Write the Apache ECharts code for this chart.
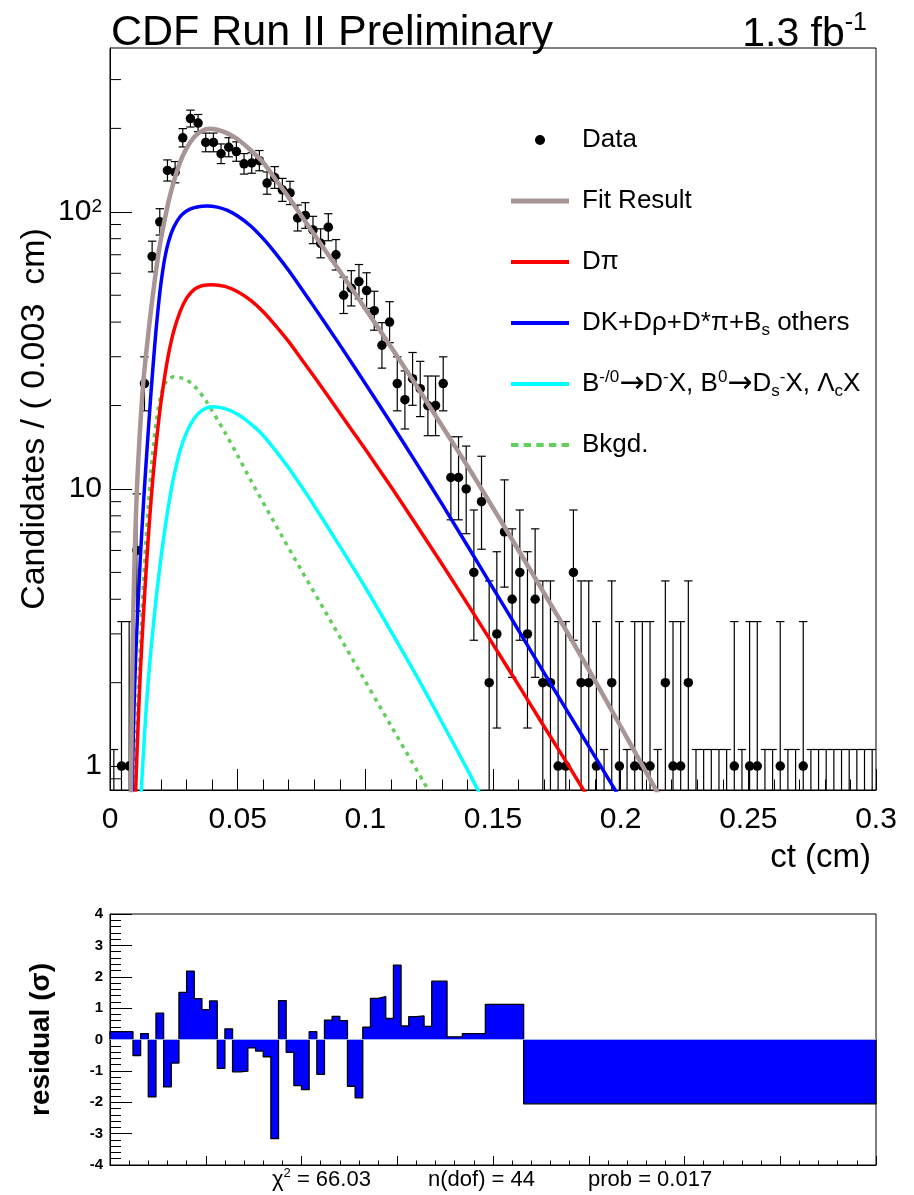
<!DOCTYPE html>
<html>
<head>
<meta charset="utf-8">
<script src="https://cdn.jsdelivr.net/npm/echarts@6/dist/echarts.min.js"></script>
<style>html,body{margin:0;padding:0;background:#fff}#c{width:914px;height:1195px}</style>
</head>
<body>
<div id="c"></div>
<script>
// ---------------- data ----------------
const binWidth = 0.003; // cm
const counts = [0,1,1,6,24,69,92,141,139,185, 217,209,178,178,162,171,165,149,150,153,
  127,133,120,117,95,97,86,77,88,70, 50,53,56,52,44,33,40,24,21,25,
  23,20,20,24,11,11,10,5,9,2, 3,7,4,5,3,4,2,2,1,1,
  5,2,2,1,0,2,1,0,1,1, 1,0,2,1,1,2,0,0,0,0,
  0,1,0,1,1,0,0,1,0,0, 1,0,0,0,0,0,0,0,0,0];

const fitX = [0.0080,0.0082,0.0085,0.0090,0.0095,0.0100,0.0105,0.0110,0.0120,0.0130,0.0140,0.0150,0.0160,0.0170,0.0180,0.0190,0.0200,0.0215,0.0230,0.0250,0.0275,0.0300,0.0330,0.0360,0.0390,0.0420,0.0460,0.0500,0.0550,0.0600,0.0650,0.0700,0.0750,0.0800,0.0900,0.1000,0.1100,0.1200,0.1300,0.1400,0.1500,0.1600,0.1700,0.1800,0.1900,0.2000,0.2100,0.2200];
const fitY = [0.50,0.83,1.45,3.16,5.01,7.24,9.77,12.3,17.8,24.0,29.9,36.3,43.7,51.9,61.0,70.8,80.4,94.4,109.6,128.8,151.4,169.8,186.2,195.9,199.5,197.7,191.9,182.8,167.1,150.7,130.3,112.7,96.6,82.8,61.0,44.7,32.6,23.6,16.9,12.1,8.55,6.01,4.21,2.94,2.03,1.39,0.95,0.65];

const dkX = [0.0085,0.0087,0.0090,0.0095,0.0100,0.0105,0.0110,0.0120,0.0130,0.0140,0.0150,0.0160,0.0170,0.0180,0.0190,0.0200,0.0215,0.0230,0.0250,0.0275,0.0300,0.0330,0.0360,0.0380,0.0420,0.0460,0.0500,0.0550,0.0600,0.0650,0.0700,0.0750,0.0800,0.0900,0.1000,0.1100,0.1200,0.1300,0.1400,0.1500,0.1600,0.1700,0.1800,0.1900,0.2000];
const dkY = [0.68,0.83,1.15,1.74,2.40,3.09,3.89,5.89,8.51,11.9,16.2,21.9,28.8,37.2,46.2,55.6,68.4,78.5,88.1,96.2,100.7,103.5,104.7,105.0,104.0,101.2,96.6,89.1,80.0,70.5,61.4,52.8,45.3,33.1,24.0,17.3,12.4,8.83,6.24,4.39,3.09,2.17,1.53,1.08,0.76];

const dpiX = [0.0098,0.0100,0.0105,0.0110,0.0115,0.0120,0.0130,0.0140,0.0150,0.0160,0.0170,0.0180,0.0190,0.0200,0.0215,0.0230,0.0250,0.0275,0.0300,0.0330,0.0360,0.0400,0.0450,0.0500,0.0550,0.0600,0.0650,0.0700,0.0750,0.0800,0.0900,0.1000,0.1100,0.1200,0.1300,0.1400,0.1500,0.1600,0.1700,0.1800,0.1900];
const dpiY = [0.70,0.79,1.07,1.41,1.82,2.29,3.39,4.84,6.68,8.91,11.5,14.3,17.4,20.7,25.7,30.9,37.2,43.7,48.8,52.5,54.1,54.6,53.8,51.5,48.0,43.6,38.7,34.0,29.4,25.4,18.8,13.9,10.2,7.41,5.36,3.85,2.75,1.96,1.39,0.99,0.70];

const bdxX = [0.0120,0.0123,0.0130,0.0140,0.0150,0.0160,0.0170,0.0180,0.0190,0.0200,0.0215,0.0230,0.0250,0.0275,0.0300,0.0330,0.0360,0.0400,0.0450,0.0500,0.0550,0.0600,0.0650,0.0700,0.0750,0.0800,0.0900,0.1000,0.1100,0.1200,0.1300,0.1400,0.1450,0.1500];
const bdxY = [0.69,0.83,1.08,1.53,2.04,2.60,3.24,3.98,4.79,5.69,7.16,8.81,11.1,13.8,16.0,18.0,19.2,19.8,19.5,18.6,17.2,15.6,13.7,11.9,10.2,8.69,6.21,4.41,3.07,2.12,1.44,0.97,0.79,0.64];

const bkgX = [0.0095,0.0097,0.0100,0.0105,0.0110,0.0115,0.0120,0.0130,0.0140,0.0150,0.0160,0.0170,0.0180,0.0190,0.0200,0.0215,0.0230,0.0250,0.0275,0.0300,0.0340,0.0380,0.0450,0.0500,0.0550,0.0650,0.0750,0.0850,0.0950,0.1100,0.1250];
const bkgY = [0.72,0.83,1.00,1.35,1.78,2.29,2.88,4.37,6.31,8.71,11.5,14.3,17.2,19.7,21.9,24.0,24.9,25.4,25.2,24.8,23.0,20.5,16.0,13.2,10.8,7.38,5.08,3.52,2.43,1.40,0.81];

const residEdges = [0,0.009,0.012,0.015,0.018,0.021,0.024,0.027,0.030,0.033,0.036,0.039,0.042,0.045,0.048,
  0.051,0.054,0.057,0.060,0.063,0.066,0.069,0.072,0.075,0.078,0.081,0.084,0.087,0.090,0.093,0.096,0.099,
  0.102,0.105,0.108,0.111,0.114,0.117,0.120,0.123,0.126,0.132,0.138,0.147,0.162,0.3];
const residVals = [0.25,-0.51,0.19,-1.83,0.84,-1.51,-0.75,1.50,2.18,1.30,0.95,1.23,-0.92,0.34,-1.03,-1.01,
  -0.27,-0.37,-0.55,-3.16,1.24,-0.41,-1.47,-1.60,0.25,-1.11,0.62,0.74,0.60,-1.49,-1.86,0.39,1.31,1.37,
  0.67,2.37,0.43,0.73,0.75,0.42,1.86,0.085,0.19,1.12,-2.05];

const yMinorTicks = [0.9,2,3,4,5,6,7,8,9,20,30,40,50,60,70,80,90,200,300];
const statsText = ['χ{sup|2} = 66.03', 'n(dof) = 44', 'prob = 0.017'];

// ---------------- derived ----------------
const Y_MIN = 0.82, Y_MAX = 390;
const FONT = '"Liberation Sans", Arial, Helvetica, sans-serif';
// Poisson 68% interval (Gehrels approximation); zero bins use the one-sided 1.148
function poisLo(n) { return n <= 0 ? 0 : n * Math.pow(1 - 1 / (9 * n) - 1 / (3 * Math.sqrt(n)), 3); }
function poisHi(n) { return n <= 0 ? 1.148 : n + Math.sqrt(n + 0.75) + 1; }

const pointData = [], errData = [];
counts.forEach((c, i) => {
  const x = +(binWidth * (i + 0.5)).toFixed(5);
  if (c > 0) pointData.push([x, c]);
  errData.push([x, poisLo(c), poisHi(c)]);
});
const zip = (xs, ys) => xs.map((x, i) => [x, ys[i]]);

const residLine = [[residEdges[0], 0]];
residVals.forEach((v, i) => { residLine.push([residEdges[i], v], [residEdges[i + 1], v]); });
residLine.push([residEdges[residEdges.length - 1], 0]);

const COLORS = { fit: '#a89595', dk: '#0000ff', dpi: '#ff0000', bdx: '#00ffff', bkg: '#62cf5a' };

const legendText = {
  'Data': 'Data',
  'Fit Result': 'Fit Result',
  'Dπ': 'Dπ',
  'DK': 'DK+Dρ+D*π+B{sub|s} others',
  'BDX': 'B{sup|-/0}{arr|→}D{sup|-}X, B{sup|0}{arr|→}D{sub|s}{sup|-}X, Λ{sub|c}X',
  'Bkgd.': 'Bkgd.'
};

const chart = echarts.init(document.getElementById('c'), null, { renderer: 'canvas' });

function renderErr(params, api) {
  const x = api.value(0), lo = api.value(1), hi = api.value(2);
  const pHi = api.coord([x, hi]);
  const pLo = lo > 0 ? api.coord([x, lo]) : api.coord([x, Y_MIN * 0.5]);
  const cw = 4.2;
  const st = { stroke: '#000', lineWidth: 1.2 };
  const ch = [
    { type: 'line', shape: { x1: pHi[0], y1: pHi[1], x2: pLo[0], y2: pLo[1] }, style: st },
    { type: 'line', shape: { x1: pHi[0] - cw, y1: pHi[1], x2: pHi[0] + cw, y2: pHi[1] }, style: st }
  ];
  if (lo > 0) ch.push({ type: 'line', shape: { x1: pLo[0] - cw, y1: pLo[1], x2: pLo[0] + cw, y2: pLo[1] }, style: st });
  return { type: 'group', children: ch };
}

function renderMinor(params, api) {
  const c = api.coord([0, api.value(1)]);
  return { type: 'line', shape: { x1: c[0], y1: c[1], x2: c[0] + 11, y2: c[1] }, style: { stroke: '#000', lineWidth: 1 } };
}

function curve(name, xs, ys, color, width, dash) {
  return {
    name, type: 'line', xAxisIndex: 0, yAxisIndex: 0, data: zip(xs, ys),
    showSymbol: false, symbol: 'none', smooth: 0.25, z: 4, silent: true,
    color: color, itemStyle: { color: color },
    lineStyle: { color: color, width: width, type: dash || 'solid', cap: 'butt', join: 'round' }
  };
}

const supRich = (fs, lh) => ({ fontSize: fs, lineHeight: lh, verticalAlign: 'top', fontFamily: FONT, color: '#000' });
const subRich = (fs, lh) => ({ fontSize: fs, lineHeight: lh, verticalAlign: 'bottom', fontFamily: FONT, color: '#000' });

const option = {
  animation: false,
  backgroundColor: '#fff',
  title: [
    { text: 'CDF Run II Preliminary', left: 106, top: 7,
      textStyle: { fontSize: 43, fontWeight: 'normal', color: '#000', fontFamily: FONT } },
    { text: '1.3 fb{sup|-1}', right: 42, top: 6,
      textStyle: { fontSize: 41, lineHeight: 48, fontWeight: 'normal', color: '#000', fontFamily: FONT,
        rich: { sup: supRich(25, 25) } } }
  ],
  legend: {
    orient: 'vertical', left: 506, top: 119.5, itemWidth: 58, itemHeight: 10, itemGap: 30,
    selectedMode: false, itemStyle: { borderWidth: 0 },
    textStyle: { fontSize: 26, lineHeight: 31, color: '#000', fontFamily: FONT, padding: [0, 0, 0, 8],
      rich: { sup: supRich(17, 16), sub: subRich(17, 16),
        arr: { fontSize: 30, lineHeight: 31, fontFamily: '"DejaVu Sans", sans-serif', color: '#000' } } },
    formatter: n => legendText[n],
    data: [
      { name: 'Data', icon: 'circle' },
      { name: 'Fit Result', icon: 'path://M0,0H58V5H0Z' },
      { name: 'Dπ', icon: 'path://M0,0H58V4H0Z' },
      { name: 'DK', icon: 'path://M0,0H58V4H0Z' },
      { name: 'BDX', icon: 'path://M0,0H58V4H0Z' },
      { name: 'Bkgd.', icon: 'path://M0,0H7V4H0ZM12,0H19V4H12ZM24,0H31V4H24ZM36,0H43V4H36ZM48,0H55V4H48Z' }
    ]
  },
  grid: [
    { left: 110, top: 48, width: 766, height: 742, show: true, borderColor: '#000', borderWidth: 1,
      backgroundColor: 'rgba(0,0,0,0)', containLabel: false, outerBoundsMode: 'none' },
    { left: 110, top: 914, width: 766, height: 251, show: true, borderColor: '#000', borderWidth: 1,
      backgroundColor: 'rgba(0,0,0,0)', containLabel: false, outerBoundsMode: 'none' }
  ],
  xAxis: [
    { type: 'value', gridIndex: 0, min: 0, max: 0.3, interval: 0.05,
      axisLine: { show: true, onZero: false, lineStyle: { color: '#000', width: 1 } },
      axisTick: { show: true, inside: true, length: 21, lineStyle: { color: '#000', width: 1 } },
      minorTick: { show: true, splitNumber: 5, length: 10.5, lineStyle: { color: '#000', width: 1 } },
      axisLabel: { fontSize: 30, margin: 15, color: '#000', fontFamily: FONT },
      splitLine: { show: false }, minorSplitLine: { show: false },
      name: 'ct (cm)', nameLocation: 'end', nameGap: -5, nameMoveOverlap: false,
      nameTextStyle: { fontSize: 33, color: '#000', fontFamily: FONT, align: 'right', verticalAlign: 'top', padding: [51, 0, 0, 0] } },
    { type: 'value', gridIndex: 1, min: 0, max: 0.3, interval: 0.0375,
      axisLine: { show: true, onZero: false, lineStyle: { color: '#000', width: 1 } },
      axisTick: { show: true, inside: true, length: 9, lineStyle: { color: '#000', width: 1 } },
      minorTick: { show: true, splitNumber: 5, length: 4.5, lineStyle: { color: '#000', width: 1 } },
      axisLabel: { show: false }, splitLine: { show: false }, minorSplitLine: { show: false } }
  ],
  yAxis: [
    { type: 'log', logBase: 10, gridIndex: 0, min: Y_MIN, max: Y_MAX,
      axisLine: { show: true, onZero: false, lineStyle: { color: '#000', width: 1 } },
      axisTick: { show: true, inside: true, length: 22, lineStyle: { color: '#000', width: 1 } },
      axisLabel: { fontSize: 30, margin: 8, color: '#000', fontFamily: FONT,
        showMinLabel: false, showMaxLabel: false,
        formatter: v => {
          const l = Math.log10(v), r = Math.round(l);
          if (Math.abs(l - r) > 1e-6) return '';
          return r === 2 ? '10{sup|2}' : String(Math.round(v));
        },
        rich: { sup: supRich(19, 19) } },
      splitLine: { show: false },
      name: 'Candidates / ( 0.003  cm)', nameLocation: 'middle', nameGap: 58, nameMoveOverlap: false,
      nameTextStyle: { fontSize: 34, color: '#000', fontFamily: FONT } },
    { type: 'value', gridIndex: 1, min: -4, max: 4, interval: 1,
      axisLine: { show: true, onZero: false, lineStyle: { color: '#000', width: 1 } },
      axisTick: { show: true, inside: true, length: 22, lineStyle: { color: '#000', width: 1 } },
      minorTick: { show: true, splitNumber: 5, length: 11, lineStyle: { color: '#000', width: 1 } },
      axisLabel: { fontSize: 15, fontWeight: 'bold', margin: 7, color: '#000', fontFamily: FONT },
      splitLine: { show: false }, minorSplitLine: { show: false },
      name: 'residual (σ)', nameLocation: 'middle', nameGap: 55,
      nameTextStyle: { fontSize: 28, fontWeight: 'bold', color: '#000', fontFamily: FONT } }
  ],
  graphic: statsText.map((t, i) => ({
    type: 'text', left: [272, 428, 588][i], top: 1167, silent: true,
    style: { text: t, fontSize: 22, lineHeight: 26, fill: '#000', fontFamily: FONT,
      rich: { sup: supRich(13, 13) } }
  })),
  series: [
    { type: 'custom', name: 'yMinor', xAxisIndex: 0, yAxisIndex: 0, silent: true, z: 5,
      data: yMinorTicks.map(v => [0, v]), renderItem: renderMinor },
    { type: 'custom', name: 'err', xAxisIndex: 0, yAxisIndex: 0, silent: true, clip: true, z: 2,
      data: errData, renderItem: renderErr },
    { name: 'Data', type: 'scatter', xAxisIndex: 0, yAxisIndex: 0, data: pointData, symbolSize: 9.5,
      color: '#000', itemStyle: { color: '#000', opacity: 1 }, z: 3, silent: true },
    curve('Bkgd.', bkgX, bkgY, COLORS.bkg, 3.5, [4, 5]),
    curve('BDX', bdxX, bdxY, COLORS.bdx, 3.5),
    curve('Dπ', dpiX, dpiY, COLORS.dpi, 3.5),
    curve('DK', dkX, dkY, COLORS.dk, 3.5),
    curve('Fit Result', fitX, fitY, COLORS.fit, 4.5),
    { name: 'residual', type: 'line', xAxisIndex: 1, yAxisIndex: 1, data: residLine,
      showSymbol: false, symbol: 'none', silent: true, z: 3,
      lineStyle: { color: '#000', width: 1.3 },
      areaStyle: { color: '#0000ff', opacity: 1, origin: 0 },
      markLine: { silent: true, symbol: 'none', animation: false, label: { show: false },
        lineStyle: { color: '#9fb0ee', width: 1, type: 'solid' }, data: [{ yAxis: 0 }] } }
  ]
};
chart.setOption(option);
</script>
</body>
</html>
